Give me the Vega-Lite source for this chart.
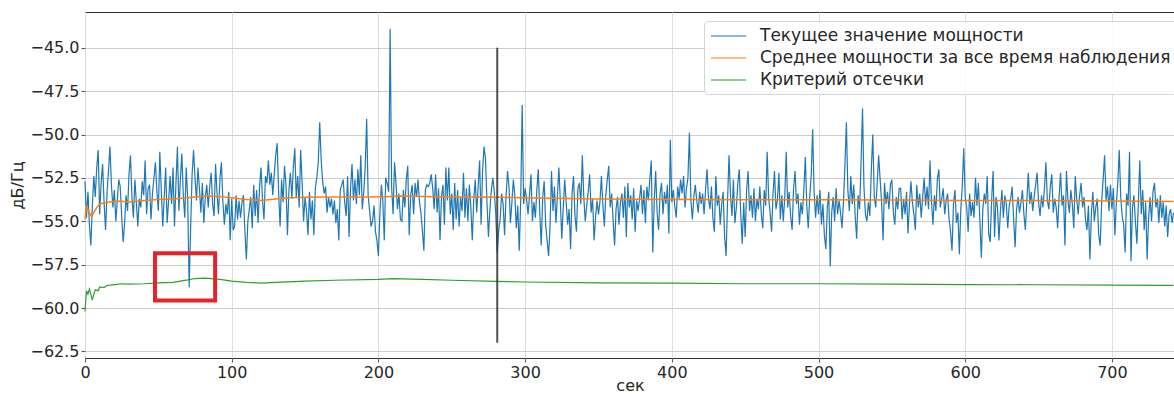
{
"$schema": "https://vega.github.io/schema/vega-lite/v6.json",
"autosize": {"type": "none"},
"padding": {"left": 85, "top": 12, "right": 0, "bottom": 36},
"width": 1090,
"height": 346,
"background": "white",
"config": {
  "font": "DejaVu Sans",
  "view": {"stroke": "#333", "strokeWidth": 1},
  "axis": {"labelFont": "DejaVu Sans", "labelFontSize": 16, "labelColor": "#262626", "titleFont": "DejaVu Sans", "titleFontSize": 16, "titleFontWeight": "normal", "titleColor": "#262626", "tickColor": "#555", "tickSize": 4, "domain": false, "labelPadding": 2}
},
"datasets": {
"cur": [
{"t":0,"v":-52.7},{"t":1,"v":-54.8},{"t":2,"v":-53.3},{"t":3,"v":-55.2},{"t":4,"v":-56.4},{"t":5,"v":-54.1},{"t":6,"v":-52.4},{"t":7,"v":-53.6},{"t":8,"v":-51.9},{"t":9,"v":-50.9},
{"t":10,"v":-54.6},{"t":11,"v":-52.8},{"t":12,"v":-51.7},{"t":13,"v":-53.9},{"t":14,"v":-55.5},{"t":15,"v":-53.4},{"t":16,"v":-52.1},{"t":17,"v":-50.7},{"t":18,"v":-52.9},{"t":19,"v":-54.2},
{"t":20,"v":-53.2},{"t":21,"v":-55.0},{"t":22,"v":-53.8},{"t":23,"v":-52.6},{"t":24,"v":-53.0},{"t":25,"v":-54.7},{"t":26,"v":-56.2},{"t":27,"v":-55.1},{"t":28,"v":-53.5},{"t":29,"v":-54.4},
{"t":30,"v":-52.3},{"t":31,"v":-51.2},{"t":32,"v":-53.6},{"t":33,"v":-54.8},{"t":34,"v":-52.6},{"t":35,"v":-53.9},{"t":36,"v":-55.3},{"t":37,"v":-53.7},{"t":38,"v":-54.2},{"t":39,"v":-52.7},
{"t":40,"v":-53.5},{"t":41,"v":-51.5},{"t":42,"v":-54.6},{"t":43,"v":-53.1},{"t":44,"v":-52.9},{"t":45,"v":-54.9},{"t":46,"v":-53.4},{"t":47,"v":-52.5},{"t":48,"v":-51.6},{"t":49,"v":-53.3},
{"t":50,"v":-54.4},{"t":51,"v":-51.0},{"t":52,"v":-53.2},{"t":53,"v":-55.3},{"t":54,"v":-53.6},{"t":55,"v":-51.9},{"t":56,"v":-55.1},{"t":57,"v":-53.8},{"t":58,"v":-52.4},{"t":59,"v":-54.0},
{"t":60,"v":-51.9},{"t":61,"v":-55.3},{"t":62,"v":-52.8},{"t":63,"v":-50.7},{"t":64,"v":-54.4},{"t":65,"v":-52.6},{"t":66,"v":-51.1},{"t":67,"v":-53.5},{"t":68,"v":-54.8},{"t":69,"v":-51.9},
{"t":70,"v":-53.7},{"t":71,"v":-58.8},{"t":72,"v":-55.4},{"t":73,"v":-52.3},{"t":74,"v":-50.9},{"t":75,"v":-52.5},{"t":76,"v":-53.8},{"t":77,"v":-51.9},{"t":78,"v":-53.1},{"t":79,"v":-54.5},
{"t":80,"v":-52.8},{"t":81,"v":-55.1},{"t":82,"v":-53.6},{"t":83,"v":-52.9},{"t":84,"v":-54.2},{"t":85,"v":-53.0},{"t":86,"v":-52.2},{"t":87,"v":-54.0},{"t":88,"v":-54.7},{"t":89,"v":-51.7},
{"t":90,"v":-53.4},{"t":91,"v":-54.6},{"t":92,"v":-52.5},{"t":93,"v":-51.6},{"t":94,"v":-53.9},{"t":95,"v":-55.2},{"t":96,"v":-54.0},{"t":97,"v":-54.6},{"t":98,"v":-53.3},{"t":99,"v":-56.1},
{"t":100,"v":-53.7},{"t":101,"v":-55.5},{"t":102,"v":-55.3},{"t":103,"v":-53.5},{"t":104,"v":-54.9},{"t":105,"v":-53.8},{"t":106,"v":-54.8},{"t":107,"v":-53.9},{"t":108,"v":-53.5},{"t":109,"v":-55.6},
{"t":110,"v":-57.2},{"t":111,"v":-55.0},{"t":112,"v":-54.3},{"t":113,"v":-53.6},{"t":114,"v":-55.4},{"t":115,"v":-52.9},{"t":116,"v":-54.7},{"t":117,"v":-53.2},{"t":118,"v":-55.1},{"t":119,"v":-53.0},
{"t":120,"v":-51.9},{"t":121,"v":-53.8},{"t":122,"v":-54.9},{"t":123,"v":-52.4},{"t":124,"v":-52.8},{"t":125,"v":-51.5},{"t":126,"v":-52.9},{"t":127,"v":-52.2},{"t":128,"v":-53.5},{"t":129,"v":-52.3},
{"t":130,"v":-51.2},{"t":131,"v":-50.5},{"t":132,"v":-53.4},{"t":133,"v":-55.3},{"t":134,"v":-52.6},{"t":135,"v":-53.9},{"t":136,"v":-51.8},{"t":137,"v":-52.9},{"t":138,"v":-55.8},{"t":139,"v":-53.2},
{"t":140,"v":-52.2},{"t":141,"v":-53.7},{"t":142,"v":-51.9},{"t":143,"v":-50.8},{"t":144,"v":-53.6},{"t":145,"v":-52.4},{"t":146,"v":-54.2},{"t":147,"v":-50.9},{"t":148,"v":-52.8},{"t":149,"v":-55.0},
{"t":150,"v":-53.6},{"t":151,"v":-54.4},{"t":152,"v":-55.8},{"t":153,"v":-53.3},{"t":154,"v":-54.9},{"t":155,"v":-53.8},{"t":156,"v":-55.8},{"t":157,"v":-53.1},{"t":158,"v":-52.5},{"t":159,"v":-51.6},
{"t":160,"v":-49.3},{"t":161,"v":-51.5},{"t":162,"v":-52.7},{"t":163,"v":-53.4},{"t":164,"v":-53.0},{"t":165,"v":-54.5},{"t":166,"v":-53.6},{"t":167,"v":-54.2},{"t":168,"v":-53.7},{"t":169,"v":-54.6},
{"t":170,"v":-53.8},{"t":171,"v":-55.1},{"t":172,"v":-54.3},{"t":173,"v":-56.1},{"t":174,"v":-53.2},{"t":175,"v":-52.9},{"t":176,"v":-52.6},{"t":177,"v":-53.9},{"t":178,"v":-54.7},{"t":179,"v":-52.4},
{"t":180,"v":-55.9},{"t":181,"v":-53.1},{"t":182,"v":-51.7},{"t":183,"v":-53.8},{"t":184,"v":-52.6},{"t":185,"v":-54.0},{"t":186,"v":-52.0},{"t":187,"v":-53.5},{"t":188,"v":-51.2},{"t":189,"v":-54.3},
{"t":190,"v":-53.3},{"t":191,"v":-51.9},{"t":192,"v":-49.1},{"t":193,"v":-53.5},{"t":194,"v":-54.4},{"t":195,"v":-55.3},{"t":196,"v":-55.0},{"t":197,"v":-54.1},{"t":198,"v":-55.6},{"t":199,"v":-56.1},
{"t":200,"v":-57.0},{"t":201,"v":-54.6},{"t":202,"v":-52.9},{"t":203,"v":-53.8},{"t":204,"v":-56.1},{"t":205,"v":-52.5},{"t":206,"v":-52.8},{"t":207,"v":-53.3},{"t":208,"v":-43.9},{"t":209,"v":-53.0},
{"t":210,"v":-54.6},{"t":211,"v":-51.6},{"t":212,"v":-52.8},{"t":213,"v":-54.3},{"t":214,"v":-53.4},{"t":215,"v":-54.9},{"t":216,"v":-55.0},{"t":217,"v":-53.2},{"t":218,"v":-54.2},{"t":219,"v":-52.6},
{"t":220,"v":-51.8},{"t":221,"v":-55.8},{"t":222,"v":-53.5},{"t":223,"v":-52.9},{"t":224,"v":-54.6},{"t":225,"v":-52.8},{"t":226,"v":-53.6},{"t":227,"v":-52.6},{"t":228,"v":-53.9},{"t":229,"v":-54.5},
{"t":230,"v":-55.6},{"t":231,"v":-56.7},{"t":232,"v":-53.2},{"t":233,"v":-52.9},{"t":234,"v":-53.0},{"t":235,"v":-52.8},{"t":236,"v":-52.3},{"t":237,"v":-53.1},{"t":238,"v":-54.3},{"t":239,"v":-52.3},
{"t":240,"v":-54.5},{"t":241,"v":-53.1},{"t":242,"v":-56.1},{"t":243,"v":-53.6},{"t":244,"v":-52.9},{"t":245,"v":-55.2},{"t":246,"v":-51.9},{"t":247,"v":-53.8},{"t":248,"v":-51.9},{"t":249,"v":-54.6},
{"t":250,"v":-53.4},{"t":251,"v":-55.5},{"t":252,"v":-52.8},{"t":253,"v":-54.9},{"t":254,"v":-53.2},{"t":255,"v":-55.3},{"t":256,"v":-53.6},{"t":257,"v":-54.4},{"t":258,"v":-52.2},{"t":259,"v":-54.8},
{"t":260,"v":-53.1},{"t":261,"v":-55.0},{"t":262,"v":-52.9},{"t":263,"v":-54.2},{"t":264,"v":-56.1},{"t":265,"v":-53.7},{"t":266,"v":-52.6},{"t":267,"v":-54.5},{"t":268,"v":-53.0},{"t":269,"v":-51.5},
{"t":270,"v":-55.2},{"t":271,"v":-52.1},{"t":272,"v":-50.7},{"t":273,"v":-51.4},{"t":274,"v":-53.9},{"t":275,"v":-55.9},{"t":276,"v":-54.3},{"t":277,"v":-53.2},{"t":278,"v":-52.5},{"t":279,"v":-53.3},
{"t":280,"v":-54.6},{"t":281,"v":-56.8},{"t":282,"v":-55.5},{"t":283,"v":-54.9},{"t":284,"v":-53.4},{"t":285,"v":-54.0},{"t":286,"v":-55.8},{"t":287,"v":-53.6},{"t":288,"v":-52.1},{"t":289,"v":-53.0},
{"t":290,"v":-55.1},{"t":291,"v":-53.9},{"t":292,"v":-52.6},{"t":293,"v":-53.5},{"t":294,"v":-55.4},{"t":295,"v":-54.1},{"t":296,"v":-56.7},{"t":297,"v":-53.8},{"t":298,"v":-48.3},{"t":299,"v":-54.0},
{"t":300,"v":-53.1},{"t":301,"v":-53.7},{"t":302,"v":-54.6},{"t":303,"v":-53.5},{"t":304,"v":-52.3},{"t":305,"v":-55.0},{"t":306,"v":-53.9},{"t":307,"v":-54.8},{"t":308,"v":-53.2},{"t":309,"v":-52.0},
{"t":310,"v":-54.5},{"t":311,"v":-56.4},{"t":312,"v":-53.6},{"t":313,"v":-52.7},{"t":314,"v":-55.2},{"t":315,"v":-56.1},{"t":316,"v":-57.0},{"t":317,"v":-55.3},{"t":318,"v":-52.1},{"t":319,"v":-54.4},
{"t":320,"v":-53.0},{"t":321,"v":-55.1},{"t":322,"v":-53.6},{"t":323,"v":-51.9},{"t":324,"v":-53.8},{"t":325,"v":-56.0},{"t":326,"v":-54.2},{"t":327,"v":-52.6},{"t":328,"v":-53.9},{"t":329,"v":-55.2},
{"t":330,"v":-54.3},{"t":331,"v":-56.6},{"t":332,"v":-53.4},{"t":333,"v":-52.4},{"t":334,"v":-54.7},{"t":335,"v":-55.6},{"t":336,"v":-53.1},{"t":337,"v":-52.8},{"t":338,"v":-54.0},{"t":339,"v":-51.2},
{"t":340,"v":-53.6},{"t":341,"v":-55.0},{"t":342,"v":-54.1},{"t":343,"v":-53.3},{"t":344,"v":-52.3},{"t":345,"v":-54.5},{"t":346,"v":-53.7},{"t":347,"v":-56.1},{"t":348,"v":-54.8},{"t":349,"v":-53.8},
{"t":350,"v":-54.6},{"t":351,"v":-53.9},{"t":352,"v":-52.4},{"t":353,"v":-54.0},{"t":354,"v":-55.3},{"t":355,"v":-53.5},{"t":356,"v":-52.6},{"t":357,"v":-51.8},{"t":358,"v":-54.2},{"t":359,"v":-53.4},
{"t":360,"v":-55.0},{"t":361,"v":-56.4},{"t":362,"v":-54.3},{"t":363,"v":-53.6},{"t":364,"v":-55.2},{"t":365,"v":-53.9},{"t":366,"v":-53.4},{"t":367,"v":-54.8},{"t":368,"v":-53.0},{"t":369,"v":-55.9},
{"t":370,"v":-52.8},{"t":371,"v":-54.2},{"t":372,"v":-53.5},{"t":373,"v":-54.9},{"t":374,"v":-53.1},{"t":375,"v":-55.6},{"t":376,"v":-53.8},{"t":377,"v":-54.4},{"t":378,"v":-53.7},{"t":379,"v":-52.9},
{"t":380,"v":-54.6},{"t":381,"v":-53.2},{"t":382,"v":-55.1},{"t":383,"v":-53.0},{"t":384,"v":-53.8},{"t":385,"v":-52.6},{"t":386,"v":-51.5},{"t":387,"v":-56.8},{"t":388,"v":-53.9},{"t":389,"v":-52.1},
{"t":390,"v":-54.5},{"t":391,"v":-55.5},{"t":392,"v":-53.4},{"t":393,"v":-52.8},{"t":394,"v":-54.6},{"t":395,"v":-53.3},{"t":396,"v":-54.0},{"t":397,"v":-52.9},{"t":398,"v":-55.7},{"t":399,"v":-50.3},
{"t":400,"v":-53.9},{"t":401,"v":-53.2},{"t":402,"v":-54.1},{"t":403,"v":-54.8},{"t":404,"v":-53.0},{"t":405,"v":-53.7},{"t":406,"v":-52.6},{"t":407,"v":-53.4},{"t":408,"v":-52.4},{"t":409,"v":-54.2},
{"t":410,"v":-53.1},{"t":411,"v":-52.5},{"t":412,"v":-49.9},{"t":413,"v":-53.8},{"t":414,"v":-54.9},{"t":415,"v":-53.6},{"t":416,"v":-52.9},{"t":417,"v":-53.8},{"t":418,"v":-54.5},{"t":419,"v":-53.3},
{"t":420,"v":-54.0},{"t":421,"v":-53.4},{"t":422,"v":-54.6},{"t":423,"v":-53.2},{"t":424,"v":-52.0},{"t":425,"v":-53.7},{"t":426,"v":-54.3},{"t":427,"v":-53.0},{"t":428,"v":-54.8},{"t":429,"v":-55.6},
{"t":430,"v":-52.4},{"t":431,"v":-54.1},{"t":432,"v":-53.5},{"t":433,"v":-55.2},{"t":434,"v":-54.0},{"t":435,"v":-53.3},{"t":436,"v":-55.9},{"t":437,"v":-57.0},{"t":438,"v":-53.8},{"t":439,"v":-51.2},
{"t":440,"v":-53.5},{"t":441,"v":-54.7},{"t":442,"v":-52.6},{"t":443,"v":-55.1},{"t":444,"v":-54.2},{"t":445,"v":-52.8},{"t":446,"v":-52.0},{"t":447,"v":-54.6},{"t":448,"v":-56.3},{"t":449,"v":-53.9},
{"t":450,"v":-55.9},{"t":451,"v":-53.2},{"t":452,"v":-52.1},{"t":453,"v":-54.4},{"t":454,"v":-53.5},{"t":455,"v":-54.8},{"t":456,"v":-53.1},{"t":457,"v":-55.0},{"t":458,"v":-53.7},{"t":459,"v":-54.3},
{"t":460,"v":-53.0},{"t":461,"v":-54.6},{"t":462,"v":-55.4},{"t":463,"v":-53.2},{"t":464,"v":-54.1},{"t":465,"v":-51.0},{"t":466,"v":-53.6},{"t":467,"v":-54.5},{"t":468,"v":-55.6},{"t":469,"v":-53.4},
{"t":470,"v":-52.1},{"t":471,"v":-54.3},{"t":472,"v":-53.8},{"t":473,"v":-52.2},{"t":474,"v":-54.9},{"t":475,"v":-53.5},{"t":476,"v":-55.0},{"t":477,"v":-53.6},{"t":478,"v":-51.0},{"t":479,"v":-54.2},
{"t":480,"v":-53.3},{"t":481,"v":-54.7},{"t":482,"v":-55.5},{"t":483,"v":-53.1},{"t":484,"v":-52.1},{"t":485,"v":-54.0},{"t":486,"v":-53.4},{"t":487,"v":-55.2},{"t":488,"v":-53.9},{"t":489,"v":-54.6},
{"t":490,"v":-53.2},{"t":491,"v":-51.3},{"t":492,"v":-54.1},{"t":493,"v":-55.4},{"t":494,"v":-53.6},{"t":495,"v":-52.4},{"t":496,"v":-49.7},{"t":497,"v":-53.3},{"t":498,"v":-54.8},{"t":499,"v":-53.5},
{"t":500,"v":-54.6},{"t":501,"v":-53.2},{"t":502,"v":-55.2},{"t":503,"v":-54.0},{"t":504,"v":-55.8},{"t":505,"v":-56.6},{"t":506,"v":-54.2},{"t":507,"v":-53.3},{"t":508,"v":-57.6},{"t":509,"v":-54.5},
{"t":510,"v":-53.6},{"t":511,"v":-55.0},{"t":512,"v":-53.1},{"t":513,"v":-54.6},{"t":514,"v":-53.8},{"t":515,"v":-54.5},{"t":516,"v":-55.4},{"t":517,"v":-53.9},{"t":518,"v":-51.8},{"t":519,"v":-49.3},
{"t":520,"v":-53.2},{"t":521,"v":-54.4},{"t":522,"v":-52.4},{"t":523,"v":-54.0},{"t":524,"v":-52.9},{"t":525,"v":-54.7},{"t":526,"v":-56.0},{"t":527,"v":-53.5},{"t":528,"v":-54.3},{"t":529,"v":-51.6},
{"t":530,"v":-48.5},{"t":531,"v":-53.1},{"t":532,"v":-54.6},{"t":533,"v":-55.0},{"t":534,"v":-53.9},{"t":535,"v":-54.7},{"t":536,"v":-52.0},{"t":537,"v":-50.0},{"t":538,"v":-53.6},{"t":539,"v":-54.2},
{"t":540,"v":-52.8},{"t":541,"v":-51.2},{"t":542,"v":-52.6},{"t":543,"v":-53.9},{"t":544,"v":-56.1},{"t":545,"v":-52.8},{"t":546,"v":-54.0},{"t":547,"v":-53.3},{"t":548,"v":-54.3},{"t":549,"v":-52.9},
{"t":550,"v":-52.6},{"t":551,"v":-54.5},{"t":552,"v":-55.2},{"t":553,"v":-53.6},{"t":554,"v":-54.3},{"t":555,"v":-53.1},{"t":556,"v":-53.1},{"t":557,"v":-54.9},{"t":558,"v":-53.7},{"t":559,"v":-54.6},
{"t":560,"v":-53.3},{"t":561,"v":-55.7},{"t":562,"v":-54.0},{"t":563,"v":-52.7},{"t":564,"v":-53.9},{"t":565,"v":-54.6},{"t":566,"v":-55.5},{"t":567,"v":-52.9},{"t":568,"v":-54.2},{"t":569,"v":-53.4},
{"t":570,"v":-54.8},{"t":571,"v":-53.6},{"t":572,"v":-52.5},{"t":573,"v":-54.1},{"t":574,"v":-53.0},{"t":575,"v":-54.3},{"t":576,"v":-51.5},{"t":577,"v":-53.8},{"t":578,"v":-55.2},{"t":579,"v":-53.5},
{"t":580,"v":-54.4},{"t":581,"v":-52.6},{"t":582,"v":-52.0},{"t":583,"v":-54.2},{"t":584,"v":-53.7},{"t":585,"v":-53.1},{"t":586,"v":-54.6},{"t":587,"v":-53.8},{"t":588,"v":-53.4},{"t":589,"v":-54.9},
{"t":590,"v":-55.6},{"t":591,"v":-56.7},{"t":592,"v":-54.0},{"t":593,"v":-53.2},{"t":594,"v":-55.1},{"t":595,"v":-54.5},{"t":596,"v":-56.9},{"t":597,"v":-54.3},{"t":598,"v":-53.0},{"t":599,"v":-50.8},
{"t":600,"v":-53.6},{"t":601,"v":-54.2},{"t":602,"v":-55.6},{"t":603,"v":-53.4},{"t":604,"v":-54.7},{"t":605,"v":-53.9},{"t":606,"v":-54.8},{"t":607,"v":-52.5},{"t":608,"v":-54.1},{"t":609,"v":-52.8},
{"t":610,"v":-55.0},{"t":611,"v":-57.1},{"t":612,"v":-54.3},{"t":613,"v":-53.4},{"t":614,"v":-54.0},{"t":615,"v":-52.4},{"t":616,"v":-55.7},{"t":617,"v":-56.2},{"t":618,"v":-53.8},{"t":619,"v":-52.1},
{"t":620,"v":-55.9},{"t":621,"v":-53.6},{"t":622,"v":-54.2},{"t":623,"v":-56.1},{"t":624,"v":-54.4},{"t":625,"v":-53.2},{"t":626,"v":-54.8},{"t":627,"v":-53.5},{"t":628,"v":-54.0},{"t":629,"v":-55.4},
{"t":630,"v":-54.1},{"t":631,"v":-53.7},{"t":632,"v":-53.0},{"t":633,"v":-54.9},{"t":634,"v":-56.5},{"t":635,"v":-54.3},{"t":636,"v":-53.6},{"t":637,"v":-54.5},{"t":638,"v":-53.9},{"t":639,"v":-53.2},
{"t":640,"v":-54.6},{"t":641,"v":-55.5},{"t":642,"v":-53.8},{"t":643,"v":-52.2},{"t":644,"v":-54.0},{"t":645,"v":-53.3},{"t":646,"v":-54.4},{"t":647,"v":-53.6},{"t":648,"v":-52.9},{"t":649,"v":-52.2},
{"t":650,"v":-53.9},{"t":651,"v":-54.7},{"t":652,"v":-53.5},{"t":653,"v":-54.2},{"t":654,"v":-53.1},{"t":655,"v":-51.6},{"t":656,"v":-53.8},{"t":657,"v":-54.3},{"t":658,"v":-53.0},{"t":659,"v":-52.3},
{"t":660,"v":-54.5},{"t":661,"v":-53.7},{"t":662,"v":-54.2},{"t":663,"v":-55.4},{"t":664,"v":-53.6},{"t":665,"v":-52.2},{"t":666,"v":-54.1},{"t":667,"v":-53.5},{"t":668,"v":-56.4},{"t":669,"v":-52.1},
{"t":670,"v":-53.8},{"t":671,"v":-54.5},{"t":672,"v":-53.2},{"t":673,"v":-54.0},{"t":674,"v":-55.4},{"t":675,"v":-52.4},{"t":676,"v":-53.7},{"t":677,"v":-54.6},{"t":678,"v":-53.5},{"t":679,"v":-52.8},
{"t":680,"v":-54.2},{"t":681,"v":-53.6},{"t":682,"v":-54.9},{"t":683,"v":-55.5},{"t":684,"v":-54.1},{"t":685,"v":-57.2},{"t":686,"v":-54.6},{"t":687,"v":-53.3},{"t":688,"v":-55.0},{"t":689,"v":-54.2},
{"t":690,"v":-53.7},{"t":691,"v":-55.8},{"t":692,"v":-56.4},{"t":693,"v":-53.9},{"t":694,"v":-52.6},{"t":695,"v":-51.2},{"t":696,"v":-53.8},{"t":697,"v":-53.0},{"t":698,"v":-54.4},{"t":699,"v":-52.9},
{"t":700,"v":-54.3},{"t":701,"v":-53.1},{"t":702,"v":-55.8},{"t":703,"v":-54.0},{"t":704,"v":-52.8},{"t":705,"v":-50.9},{"t":706,"v":-53.6},{"t":707,"v":-54.7},{"t":708,"v":-55.2},{"t":709,"v":-56.8},
{"t":710,"v":-53.4},{"t":711,"v":-54.1},{"t":712,"v":-51.0},{"t":713,"v":-57.3},{"t":714,"v":-54.2},{"t":715,"v":-53.5},{"t":716,"v":-55.0},{"t":717,"v":-56.3},{"t":718,"v":-54.0},{"t":719,"v":-51.5},
{"t":720,"v":-54.6},{"t":721,"v":-53.2},{"t":722,"v":-55.5},{"t":723,"v":-53.9},{"t":724,"v":-57.2},{"t":725,"v":-54.8},{"t":726,"v":-53.6},{"t":727,"v":-55.0},{"t":728,"v":-53.3},{"t":729,"v":-52.8},
{"t":730,"v":-54.2},{"t":731,"v":-53.7},{"t":732,"v":-55.1},{"t":733,"v":-53.5},{"t":734,"v":-54.8},{"t":735,"v":-53.9},{"t":736,"v":-55.3},{"t":737,"v":-54.1},{"t":738,"v":-55.9},{"t":739,"v":-54.6},
{"t":740,"v":-54.3},{"t":741,"v":-55.1},{"t":742,"v":-54.5}
],
"avg": [
{"t":0,"v":-54.9},{"t":1,"v":-54.1},{"t":2,"v":-54.3},{"t":3,"v":-54.5},{"t":4.5,"v":-54.75},{"t":6,"v":-54.5},{"t":8,"v":-54.2},{"t":10,"v":-54.0},{"t":13,"v":-53.95},{"t":16,"v":-53.9},{"t":20,"v":-53.85},{"t":25,"v":-53.85},{"t":30,"v":-53.9},{"t":40,"v":-53.8},{"t":50,"v":-53.75},{"t":60,"v":-53.72},{"t":70,"v":-53.65},{"t":75,"v":-53.6},{"t":82,"v":-53.55},{"t":92,"v":-53.58},{"t":100,"v":-53.65},{"t":110,"v":-53.75},{"t":120,"v":-53.8},{"t":130,"v":-53.72},{"t":140,"v":-53.65},{"t":150,"v":-53.62},{"t":170,"v":-53.6},{"t":190,"v":-53.6},{"t":205,"v":-53.58},{"t":215,"v":-53.55},{"t":240,"v":-53.58},{"t":260,"v":-53.6},{"t":285,"v":-53.62},{"t":300,"v":-53.65},{"t":350,"v":-53.72},{"t":400,"v":-53.75},{"t":450,"v":-53.76},{"t":500,"v":-53.76},{"t":550,"v":-53.77},{"t":600,"v":-53.8},{"t":650,"v":-53.81},{"t":700,"v":-53.83},{"t":742,"v":-53.86}
],
"crit": [
{"t":0,"v":-60.2},{"t":1,"v":-59.0},{"t":2,"v":-59.2},{"t":3,"v":-58.9},{"t":5,"v":-59.55},{"t":6,"v":-59.2},{"t":7,"v":-58.95},{"t":9,"v":-59.0},{"t":10,"v":-58.78},{"t":13,"v":-58.82},{"t":15,"v":-58.7},{"t":20,"v":-58.65},{"t":25,"v":-58.6},{"t":30,"v":-58.62},{"t":40,"v":-58.6},{"t":50,"v":-58.55},{"t":60,"v":-58.52},{"t":65,"v":-58.45},{"t":70,"v":-58.38},{"t":75,"v":-58.3},{"t":82,"v":-58.28},{"t":92,"v":-58.35},{"t":100,"v":-58.45},{"t":110,"v":-58.52},{"t":120,"v":-58.56},{"t":130,"v":-58.52},{"t":150,"v":-58.45},{"t":170,"v":-58.4},{"t":200,"v":-58.35},{"t":210,"v":-58.3},{"t":230,"v":-58.35},{"t":250,"v":-58.4},{"t":280,"v":-58.46},{"t":300,"v":-58.5},{"t":350,"v":-58.55},{"t":400,"v":-58.57},{"t":450,"v":-58.6},{"t":500,"v":-58.6},{"t":550,"v":-58.62},{"t":600,"v":-58.65},{"t":650,"v":-58.66},{"t":700,"v":-58.68},{"t":742,"v":-58.7}
]
},
"encoding": {
  "x": {"field": "t", "type": "quantitative", "title": "сек",
        "scale": {"domain": [0, 743], "nice": false, "zero": false},
        "axis": {"values": [0,100,200,300,400,500,600,700], "grid": true, "gridColor": "#dedede", "titlePadding": -3, "labelFlush": false}},
  "y": {"field": "v", "type": "quantitative", "title": "дБ/Гц",
        "scale": {"domain": [-62.88, -42.94], "nice": false, "zero": false},
        "axis": {"values": [-62.5,-60,-57.5,-55,-52.5,-50,-47.5,-45], "format": ".1f", "grid": true, "gridColor": "#cdcdcd", "titlePadding": 4}}
},
"layer": [
  {"data": {"name": "cur"}, "mark": {"type": "line", "strokeWidth": 1.2},
   "encoding": {"color": {"datum": "Текущее значение мощности", "type": "nominal",
      "scale": {"domain": ["Текущее значение мощности", "Среднее мощности за все время наблюдения", "Критерий отсечки"], "range": ["#1f77b4", "#ff7f0e", "#2ca02c"]},
      "legend": {"orient": "none", "legendX": 619, "legendY": 9, "title": null, "symbolType": "M-1,0H3.4", "symbolSize": 256, "symbolStrokeWidth": 1.5, "symbolOpacity": 0.7, "labelFont": "DejaVu Sans", "labelFontSize": 17, "labelColor": "#262626", "labelLimit": 800, "labelOffset": 32, "rowPadding": 5, "padding": 6, "fillColor": "rgba(255,255,255,0.85)", "strokeColor": "#d5d5d5", "cornerRadius": 4}}}},
  {"data": {"name": "avg"}, "mark": {"type": "line", "strokeWidth": 1.5},
   "encoding": {"color": {"datum": "Среднее мощности за все время наблюдения", "type": "nominal"}}},
  {"data": {"name": "crit"}, "mark": {"type": "line", "strokeWidth": 1.2},
   "encoding": {"color": {"datum": "Критерий отсечки", "type": "nominal"}}},
  {"data": {"values": [{"t": 281, "v": -45.0, "v2": -62.0}]}, "mark": {"type": "rule", "color": "#333", "strokeWidth": 2, "opacity": 0.85},
   "encoding": {"y2": {"field": "v2"}}},
  {"data": {"values": [{"t": 47.7, "t2": 88.7, "v": -56.85, "v2": -59.56}]}, "mark": {"type": "rect", "fill": null, "fillOpacity": 0, "stroke": "#e8222b", "strokeWidth": 4},
   "encoding": {"x2": {"field": "t2"}, "y2": {"field": "v2"}}}
]
}
